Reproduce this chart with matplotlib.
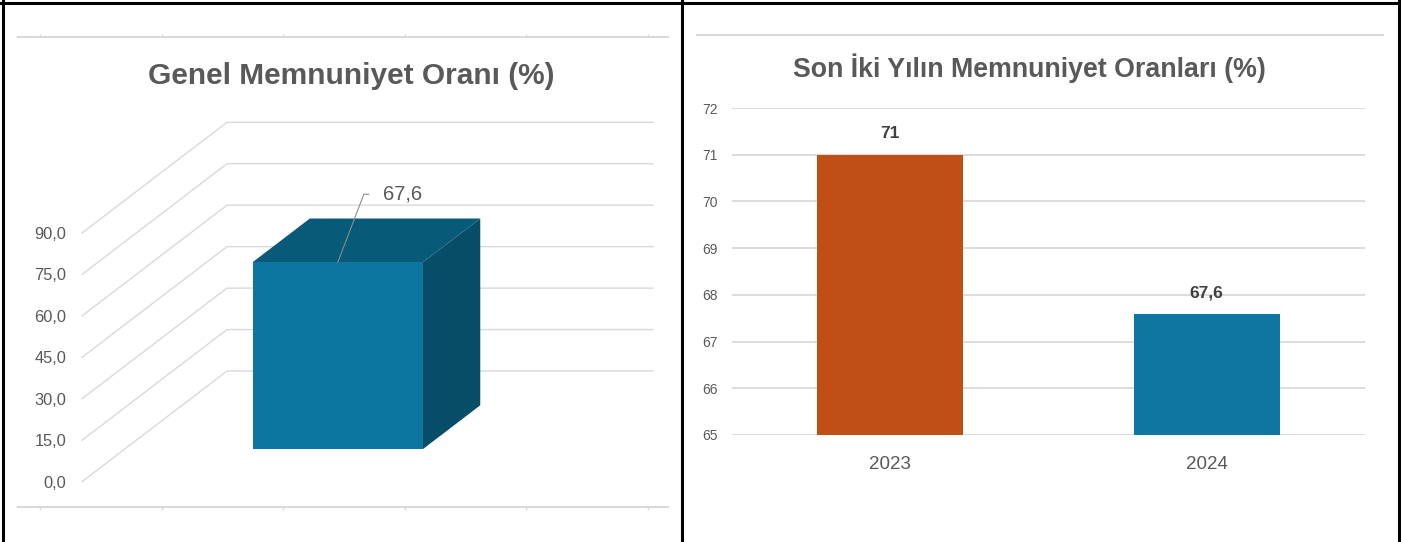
import matplotlib
matplotlib.use("Agg")
import matplotlib.pyplot as plt
from matplotlib.patches import Polygon
from matplotlib.lines import Line2D

# veriler
genel_oran = 67.6
genel_ticks = [0, 15, 30, 45, 60, 75, 90]

yillar = ['2023', '2024']
oranlar = [71, 67.6]
sag_ticks = [65, 66, 67, 68, 69, 70, 71, 72]
renkler = ['#C04F15', '#0E76A0']

GRI = '#595959'
GRID = '#D9D9D9'
W, H = 1401, 542


def virgul(v, fmt='{:.1f}'):
    return fmt.format(v).replace('.', ',')


def px_box(x0, y0, x1, y1):
    # piksel kutusunu figür oranına çevir (y yukarıdan)
    return [x0 / W, 1 - y1 / H, (x1 - x0) / W, (y1 - y0) / H]


plt.rcParams['font.family'] = ['Liberation Sans', 'DejaVu Sans']
fig = plt.figure(figsize=(W / 100, H / 100), dpi=100)

# ---------------- sol grafik: 3B sütun ----------------
ax1 = fig.add_axes(px_box(82, 233, 508, 481.7))
ax1.set_xlim(0, 1)
ax1.set_ylim(0, 90)
DX, DY = 145 / 426, 110.7 / (248.7 / 90)   # derinlik yönü


def proj(x, v, z):
    return (x + DX * z, v + DY * z)


for t in genel_ticks:
    xs = [0, DX, 1 + DX]
    ys = [t, t + DY, t + DY]
    ax1.plot(xs, ys, color=GRID, lw=1.0, clip_on=False, zorder=1)

x0, x1, z0, z1 = 0.3, 0.7, 0.295, 0.69
on = [proj(x0, 0, z0), proj(x1, 0, z0), proj(x1, genel_oran, z0), proj(x0, genel_oran, z0)]
ust = [proj(x0, genel_oran, z0), proj(x1, genel_oran, z0), proj(x1, genel_oran, z1), proj(x0, genel_oran, z1)]
yan = [proj(x1, 0, z0), proj(x1, 0, z1), proj(x1, genel_oran, z1), proj(x1, genel_oran, z0)]
ax1.add_patch(Polygon(yan, closed=True, facecolor='#074D67', edgecolor='none', clip_on=False, zorder=3))
ax1.add_patch(Polygon(ust, closed=True, facecolor='#075A78', edgecolor='none', clip_on=False, zorder=3))
ax1.add_patch(Polygon(on, closed=True, facecolor='#0C76A0', edgecolor='none', clip_on=False, zorder=4))

ax1.annotate(virgul(genel_oran), xy=proj(0.5, genel_oran, z0), xytext=(45, 68),
             textcoords='offset pixels', ha='left', va='center', fontsize=14.5, color=GRI,
             arrowprops=dict(arrowstyle='-', color='#8C8C8C', lw=0.8, shrinkA=8, shrinkB=0,
                             relpos=(0, 0.5), connectionstyle='angle,angleA=0,angleB=69,rad=0'),
             zorder=5)

ax1.set_yticks(genel_ticks)
ax1.set_yticklabels([virgul(t) for t in genel_ticks])
ax1.tick_params(axis='y', length=0, pad=11.5, labelsize=11.8, labelcolor=GRI)
ax1.set_xticks([])
for s in ax1.spines.values():
    s.set_visible(False)
ax1.patch.set_visible(False)

fig.text(351.5 / W, 1 - 76 / H, 'Genel Memnuniyet Oranı (%)', ha='center', va='center',
         fontsize=21.5, fontweight='bold', color=GRI)

# sol paneldeki üst/alt eksen çizgileri
axc = fig.add_axes(px_box(18, 37, 668, 507))
axc.set_xlim(-0.181, 5.164)
axc.set_xticks(range(6))
axc.set_yticks([])
axc.tick_params(axis='x', top=True, bottom=True, labelbottom=False, length=2.5, color=GRID, width=1)
for k in ['left', 'right']:
    axc.spines[k].set_visible(False)
for k in ['top', 'bottom']:
    axc.spines[k].set_color(GRID)
    axc.spines[k].set_linewidth(1.5)
axc.patch.set_visible(False)

# ---------------- sağ grafik: iki yıl ----------------
ax2 = fig.add_axes(px_box(732, 108, 1365, 435))
ax2.bar(range(len(yillar)), [o - sag_ticks[0] for o in oranlar], bottom=sag_ticks[0],
        width=0.46, color=renkler, zorder=3)
for i, o in enumerate(oranlar):
    ax2.annotate(virgul(o, '{:g}'), xy=(i, o), xytext=(0, 21), textcoords='offset pixels',
                 ha='center', va='center', fontsize=12.5, fontweight='bold', color='#404040')
ax2.set_xlim(-0.5, 1.5)
ax2.set_ylim(sag_ticks[0], sag_ticks[-1])
ax2.set_yticks(sag_ticks)
ax2.set_xticks(range(len(yillar)))
ax2.set_xticklabels(yillar)
ax2.tick_params(axis='y', length=0, pad=10.5, labelsize=10, labelcolor=GRI)
ax2.tick_params(axis='x', length=0, pad=15, labelsize=13.5, labelcolor=GRI)
ax2.grid(axis='y', color=GRID, lw=1.3, zorder=0)
ax2.set_axisbelow(True)
for s in ax2.spines.values():
    s.set_visible(False)

fig.text(1029 / W, 1 - 68 / H, 'Son İki Yılın Memnuniyet Oranları (%)', ha='center', va='center',
         fontsize=19.3, fontweight='bold', color=GRI)

fig.add_artist(Line2D([697 / W, 1383 / W], [1 - 35 / H] * 2, color=GRID, lw=1.5))

# siyah çerçeveler
for xs, ys in [([3 / W, 3 / W], [0, 1]), ([682 / W, 682 / W], [0, 1]),
               ([1398.5 / W, 1398.5 / W], [0, 1]), ([0, 1], [1 - 3 / H, 1 - 3 / H])]:
    fig.add_artist(Line2D(xs, ys, color='black', lw=2.2))

fig.savefig('out.png', dpi=100, facecolor='white')
